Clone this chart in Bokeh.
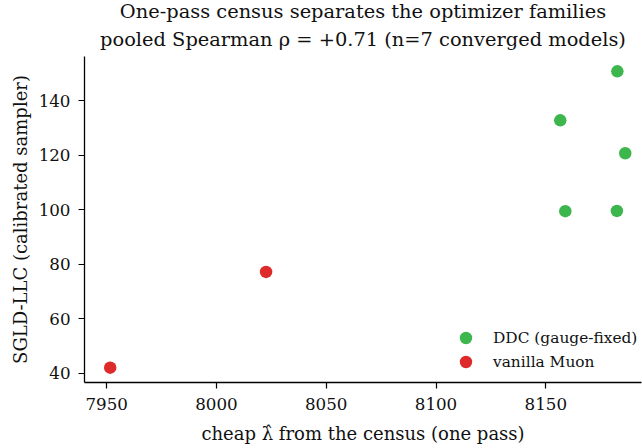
from bokeh.plotting import figure
from bokeh.models import Title, Legend, LegendItem, Range1d, FixedTicker, ColumnDataSource
from bokeh.embed import file_html
from bokeh.resources import INLINE

# Data
ddc_x = [8182.6, 8156.6, 8186.2, 8158.9, 8182.4]
ddc_y = [150.9, 132.9, 120.8, 99.5, 99.6]
muon_x = [7951.6, 8022.6]
muon_y = [42.0, 77.2]
x_ticks = [7950, 8000, 8050, 8100, 8150]
y_ticks = [40, 60, 80, 100, 120, 140]
title_lines = ["One-pass census separates the optimizer families",
               "pooled Spearman \u03c1 = +0.71 (n=7 converged models)"]
x_label = "cheap \u03bb\u0302 from the census (one pass)"
y_label = "SGLD-LLC (calibrated sampler)"
labels = ["DDC (gauge-fixed)", "vanilla Muon"]
GREEN = "#3db64e"
RED = "#de2a2a"
FONT = "DejaVu Serif"
TXT = "#111111"

p = figure(width=642, height=448, output_backend="svg", toolbar_location=None,
           title=None,
           x_range=Range1d(7939.9, 8193.6), y_range=Range1d(36.55, 156.35),
           min_border_left=84, min_border_right=1, min_border_bottom=66,
           min_border_top=0)
p.grid.visible = False
p.outline_line_color = None
p.background_fill_color = "white"
p.border_fill_color = "white"

t2 = Title(text=title_lines[1], align="center", text_font=FONT, text_color=TXT,
           text_font_size="19.4px", text_font_style="normal",
           standoff=11, offset=5)
t1 = Title(text=title_lines[0], align="center", text_font=FONT, text_color=TXT,
           text_font_size="19.4px", text_font_style="normal",
           standoff=-5, offset=5)
p.add_layout(t2, "above")
p.add_layout(t1, "above")

src_d = ColumnDataSource(dict(x=ddc_x, y=ddc_y))
src_m = ColumnDataSource(dict(x=muon_x, y=muon_y))
r1 = p.scatter("x", "y", source=src_d, size=12.5, color=GREEN, line_color=None)
r2 = p.scatter("x", "y", source=src_m, size=12.5, color=RED, line_color=None)

for ax in (p.xaxis[0], p.yaxis[0]):
    ax.axis_line_color = "black"
    ax.axis_line_width = 1.3
    ax.major_tick_line_color = "black"
    ax.major_tick_line_width = 1.2
    ax.major_tick_out = 6
    ax.major_tick_in = 0
    ax.minor_tick_line_color = None
    ax.major_label_text_font = FONT
    ax.major_label_text_font_size = "16.7px"
    ax.major_label_text_color = TXT
    ax.axis_label_text_font = FONT
    ax.axis_label_text_font_size = "18px"
    ax.axis_label_text_font_style = "normal"
    ax.axis_label_text_color = TXT

p.xaxis.ticker = FixedTicker(ticks=x_ticks)
p.yaxis.ticker = FixedTicker(ticks=y_ticks)
p.xaxis.axis_label = x_label
p.yaxis.axis_label = y_label
p.xaxis.major_label_standoff = 9
p.xaxis.axis_label_standoff = 10
p.yaxis.major_label_standoff = 8
p.yaxis.axis_label_standoff = 5

legend_common = dict(padding=0, spacing=0, margin=0,
                     glyph_width=31, glyph_height=31, label_height=31,
                     label_standoff=12, label_text_font=FONT,
                     label_text_font_size="15.4px", label_text_color=TXT,
                     background_fill_alpha=0, border_line_alpha=0)
legend1 = Legend(items=[LegendItem(label=labels[0], renderers=[r1])],
                 location=(366, 29), **legend_common)
legend2 = Legend(items=[LegendItem(label=labels[1], renderers=[r2])],
                 location=(366, 5), **legend_common)
p.add_layout(legend1)
p.add_layout(legend2)

open("out.html", "w").write(file_html(p, INLINE))
